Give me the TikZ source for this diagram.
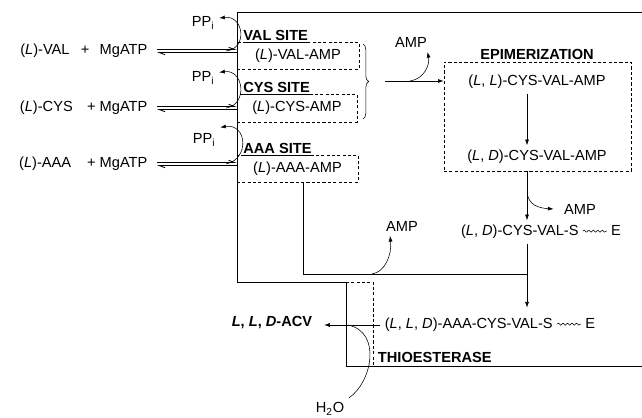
\documentclass[tikz,border=0pt]{standalone}
\usepackage{fontspec}
\setmainfont{Liberation Sans}
\usetikzlibrary{arrows.meta,decorations.pathreplacing,decorations.pathmorphing}

\newcommand{\wavy}{\tikz[baseline=-0.6ex]\draw[line width=0.4pt,decorate,
  decoration={snake,amplitude=0.7pt,segment length=3.2pt}] (0,0) -- (6mm,0);}

\begin{document}
\begin{tikzpicture}[
  x=0.25mm, y=0.25mm,
  >={Latex[length=4pt,width=2.8pt]},
  every node/.style={font=\fontsize{10.4}{12}\selectfont},
  sitebox/.style={draw, dash pattern=on 2.2pt off 1.6pt, line width=0.5pt, inner sep=0pt},
  sitelabel/.style={anchor=base west, inner sep=0pt, font=\fontsize{10.4}{12}\selectfont\bfseries},
  reactant/.style={anchor=east, outer sep=3.5pt},
  eqfwd/.style={-{Straight Barb[harpoon,length=4pt,width=3pt]}, line width=0.6pt}
]
  \useasboundingbox (0,0) rectangle (642,417);

  % enzyme outline
  \draw[line width=0.6pt] (642,405) -- (237,405) -- (237,135) -- (346,135)
    -- (346,51) -- (642,51);
  \draw[dash pattern=on 2.2pt off 1.6pt, line width=0.5pt] (346,135) -- (373,135) -- (373,51);

  % adenylation sites
  \node[sitebox, minimum width=30.5mm, minimum height=6.75mm] (valbox) at (298,361.5) {(\textit{L})-VAL-AMP};
  \node[sitebox, minimum width=30mm, minimum height=7mm] (cysbox) at (297,309) {(\textit{L})-CYS-AMP};
  \node[sitebox, minimum width=30.25mm, minimum height=6.75mm] (aaabox) at (297.5,248.5) {(\textit{L})-AAA-AMP};
  \node[sitelabel] (valsite) at (243,377) {\underline{VAL SITE}};
  \node[sitelabel] (cyssite) at (243,325) {\underline{CYS SITE}};
  \node[sitelabel] (aaasite) at (243,264) {\underline{AAA SITE}};

  \node[reactant] (val) at (157,366) {(\textit{L})-VAL\hspace{2.8mm}+\hspace{2.6mm}MgATP};
  \node[reactant] (cys) at (157,309) {(\textit{L})-CYS\hspace{3.6mm}+\hspace{1mm}MgATP};
  \node[reactant] (aaa) at (157,253) {(\textit{L})-AAA\hspace{4mm}+\hspace{1mm}MgATP};

  \draw[eqfwd, transform canvas={yshift=1.1pt}] (val.east) -- (val.east -| valbox.west);
  \draw[eqfwd, transform canvas={yshift=-1.1pt}] (val.east -| valbox.west) -- (val.east);
  \draw[eqfwd, transform canvas={yshift=1.1pt}] (cys.east) -- (cys.east -| cysbox.west);
  \draw[eqfwd, transform canvas={yshift=-1.1pt}] (cys.east -| cysbox.west) -- (cys.east);
  \draw[eqfwd, transform canvas={yshift=1.1pt}] (aaa.east) -- (aaa.east -| aaabox.west);
  \draw[eqfwd, transform canvas={yshift=-1.1pt}] (aaa.east -| aaabox.west) -- (aaa.east);

  % pyrophosphate release
  \node (ppi1) at (203,394) {PP\textsubscript{i}};
  \node (ppi2) at (203,339) {PP\textsubscript{i}};
  \node (ppi3) at (204,277) {PP\textsubscript{i}};
  \coordinate (pv) at (226,366);
  \coordinate (pc) at (226,309);
  \coordinate (pa) at (226,253);
  \draw[->] (pv) .. controls (248,368) and (244,402) .. ([yshift=3.5pt]ppi1.east);
  \draw[->] (pc) .. controls (248,312) and (244,348) .. ([yshift=4pt]ppi2.east);
  \draw[->] (pa) .. controls (250,258) and (247,294) .. ([yshift=9pt]ppi3.east);

  % condensation
  \draw[decorate, decoration={brace, amplitude=4pt}] (363,373) -- (363,298);
  \coordinate (merge) at (385,336);
  \coordinate (a1) at (410,336);
  \node (amp1) at (411,375) {AMP};

  \node[sitebox, minimum width=46.75mm, minimum height=27.25mm] (epibox) at (537.5,300.5) {};
  \node[font=\fontsize{10.4}{12}\selectfont\bfseries] (epilabel) at (537,363) {EPIMERIZATION};
  \node (ll) at (537,335) {(\textit{L}, \textit{L})-CYS-VAL-AMP};
  \node (ld) at (537,260) {(\textit{L}, \textit{D})-CYS-VAL-AMP};
  \node (lds) at (541,185) {(\textit{L}, \textit{D})-CYS-VAL-S \wavy\ E};
  \node (amp2) at (580,208) {AMP};

  \draw[->] (merge) -- (merge -| epibox.west);
  \draw[->] (a1) .. controls (424,338) and (430,352) .. ([xshift=-3pt]amp1.south east);

  \coordinate (col) at (527,0);
  \coordinate (a2) at (527,224);
  \draw[->] (ll.south -| col) -- (ld.north -| col);
  \draw[->] (epibox.south -| col) -- (lds.north -| col);
  \draw[->] (a2) .. controls (529,212) and (538,209) .. ([xshift=-4pt]amp2.west);

  % aminoadipyl transfer
  \coordinate (join) at (527,143);
  \coordinate (a3) at (372,143);
  \node (amp3) at (402,191) {AMP};
  \node (lld) at (490,92) {(\textit{L}, \textit{L}, \textit{D})-AAA-CYS-VAL-S \wavy\ E};
  \draw ([xshift=4pt]aaabox.south) |- (join);
  \draw[->, shorten >=4pt] (lds.south -| col) -- (lld.north -| col);
  \draw[->] (a3) .. controls (385,145) and (392,162) .. ([xshift=-8.5pt]amp3.south);

  % release
  \node[font=\fontsize{10.4}{12}\selectfont\bfseries] (acv) at (272,94) {\textit{L}, \textit{L}, \textit{D}-ACV};
  \node[font=\fontsize{10.4}{12}\selectfont\bfseries, anchor=west] (thio) at (373,60) {THIOESTERASE};
  \node (h2o) at (330,8) {H\textsubscript{2}O};
  \coordinate (hj) at (348,92);
  \draw[->, shorten >=5pt] (lld.west) -- (lld.west -| acv.east);
  \draw (h2o.north east) .. controls (372,35) and (382,85) .. (hj);
\end{tikzpicture}
\end{document}
